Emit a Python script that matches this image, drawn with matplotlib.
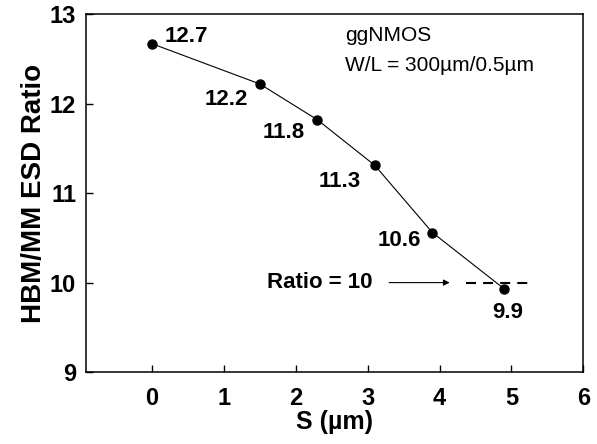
import matplotlib.pyplot as plt

plt.rcParams['font.family'] = ['Liberation Sans', 'DejaVu Sans']

s_um = [0.0, 1.5, 2.3, 3.1, 3.9, 4.9]
ratio = [12.67, 12.22, 11.82, 11.31, 10.56, 9.93]
ratio_labels = ['12.7', '12.2', '11.8', '11.3', '10.6', '9.9']
target_ratio = 10.0

# label offsets in pixels relative to each point
offsets = [(13, 7), (-34, -16), (-34, -13), (-35, -16), (-33, -8), (4, -24)]
aligns = ['left', 'center', 'center', 'center', 'center', 'center']

fig = plt.figure(figsize=(5.97, 4.44), dpi=100)
ax = fig.add_axes([0.144, 0.162, 0.833, 0.806])

ax.plot(s_um, ratio, color='black', lw=0.8, marker='o', ms=6.5)

for x, y, lab, off, ha in zip(s_um, ratio, ratio_labels, offsets, aligns):
    ax.annotate(lab, (x, y), xytext=off, textcoords='offset pixels',
                ha=ha, va='center', fontsize=16, fontweight='bold')

ax.plot([4.37, 5.29], [target_ratio, target_ratio], color='black',
        lw=1.5, ls=(0, (4.8, 3.4)))
ax.annotate('', xy=(4.18, target_ratio), xytext=(3.26, target_ratio),
            arrowprops=dict(arrowstyle='-|>', color='black', lw=0.8,
                            mutation_scale=9))
ax.text(3.07, target_ratio, 'Ratio = 10', ha='right', va='center',
        fontsize=16, fontweight='bold')

ax.text(2.69, 12.7, 'ggNMOS', fontsize=15)
ax.text(2.69, 12.37, 'W/L = 300\u00b5m/0.5\u00b5m', fontsize=15)

ax.set_xlim(-0.92, 6.0)
ax.set_ylim(9, 13)
ax.set_xticks([0, 1, 2, 3, 4, 5, 6])
ax.set_yticks([9, 10, 11, 12, 13])
ax.tick_params(direction='in', length=5, width=1, labelsize=17)
ax.tick_params(axis='x', pad=11)
ax.tick_params(axis='y', pad=7)
for lab in ax.get_xticklabels() + ax.get_yticklabels():
    lab.set_fontweight('bold')
for sp in ax.spines.values():
    sp.set_linewidth(1.1)

ax.set_xlabel('S (\u00b5m)', fontsize=18, fontweight='bold', labelpad=0)
ax.set_ylabel('HBM/MM ESD Ratio', fontsize=20, fontweight='bold', labelpad=2)

fig.savefig('out.png', dpi=100)
